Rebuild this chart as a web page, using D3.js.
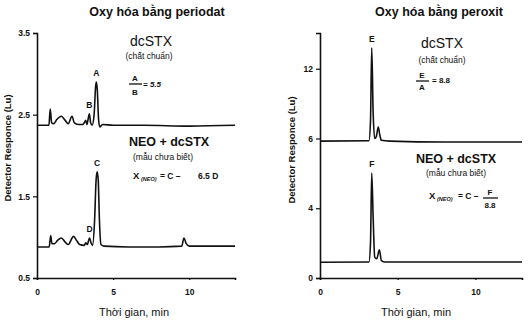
<!DOCTYPE html>
<html><head><meta charset="utf-8">
<script src="https://cdn.jsdelivr.net/npm/d3@7"></script>
<style>body{margin:0;background:#fff}svg{display:block}text{font-family:"Liberation Sans",Arial,sans-serif;fill:#111}</style>
</head><body><svg id="c" width="532" height="322"></svg>
<script>
// ---- data ----
const panelTitles = ["Oxy hóa bằng periodat", "Oxy hóa bằng peroxit"];
const xTicks = [0, 5, 10];
const leftYTicks = [3.5, 2.5, 1.5, 0.5];
const rightYTicks = [0, 4, 8, 12];
const rightYTickLabels = ["0", "4", "6", "12"];
// chromatograms: [time (min), response]
const periodatStd = [[0,2.37],[0.78,2.37],[0.87,2.57],[0.96,2.40],[1.1,2.39],[1.3,2.44],[1.6,2.48],[1.85,2.43],[2.05,2.39],[2.3,2.48],[2.45,2.40],[2.7,2.38],[3.0,2.38],[3.1,2.40],[3.2,2.43],[3.28,2.38],[3.36,2.45],[3.44,2.51],[3.52,2.40],[3.62,2.37],[3.75,2.5],[3.85,2.85],[3.9,2.9],[3.96,2.8],[4.04,2.45],[4.12,2.35],[4.3,2.38],[5,2.37],[7,2.37],[10,2.36],[13,2.37]];
const periodatSample = [[0,0.88],[0.8,0.88],[0.9,1.02],[0.98,0.92],[1.15,0.92],[1.35,0.96],[1.6,0.99],[1.85,0.94],[2.05,0.91],[2.4,1.01],[2.6,0.96],[2.8,0.91],[3.1,0.90],[3.2,0.93],[3.3,0.91],[3.45,0.99],[3.55,0.93],[3.65,0.90],[3.78,1.2],[3.88,1.7],[3.95,1.8],[4.02,1.7],[4.1,1.2],[4.2,0.91],[4.4,0.89],[6,0.88],[8,0.88],[9.5,0.89],[9.65,0.99],[9.8,0.92],[10,0.89],[13,0.89]];
const peroxitStd = [[0,7.85],[3.15,7.87],[3.25,9],[3.33,13.2],[3.42,9.5],[3.52,8.0],[3.62,8.1],[3.75,8.65],[3.85,8.2],[3.95,7.9],[4.5,7.85],[8,7.8],[13,7.8]];
const peroxitSample = [[0,0.9],[3.15,0.92],[3.25,2],[3.33,6.02],[3.42,3.5],[3.52,1.2],[3.65,1.1],[3.82,1.62],[3.95,1.0],[4.2,0.92],[13,0.92]];
// peak labels [time, value]
const leftPeaks = [["A",3.9,2.9],["B",3.44,2.51],["C",3.95,1.8],["D",3.45,0.99]];
const rightPeaks = [["E",3.33,13.2],["F",3.33,6.02]];

const svg = d3.select("#c");
const line = (x,y)=>d3.line().curve(d3.curveMonotoneX).x(d=>x(d[0])).y(d=>y(d[1]));

function panel(x, y, yTicks, yLabels){
  const g = svg.append("g");
  const ya = g.append("g").attr("transform",`translate(${x.range()[0]},0)`)
    .call(d3.axisLeft(y).tickValues(yTicks).tickSize(4).tickPadding(3)
      .tickFormat((d,i)=> yLabels ? yLabels[i] : d3.format(".1f")(d)));
  const xa = g.append("g").attr("transform",`translate(0,${y.range()[0]})`)
    .call(d3.axisBottom(x).tickValues(xTicks).tickSize(2).tickPadding(9).tickFormat(d3.format("d")));
  [ya,xa].forEach(a=>{
    a.select(".domain").attr("stroke","#111").attr("stroke-width",1.6);
    a.selectAll(".tick line").attr("stroke","#111").attr("stroke-width",1.2);
    a.selectAll("text").style("font-size","8.5px").style("font-weight","bold").attr("fill","#111");
  });
  return g;
}
function trace(g,data,x,y){
  g.append("path").datum(data).attr("d",line(x,y)).attr("fill","none")
   .attr("stroke","#111").attr("stroke-width",1.6).attr("stroke-linejoin","round");
}
function txt(x,y,s,size,weight,anchor){
  return svg.append("text").attr("x",x).attr("y",y).attr("text-anchor",anchor||"middle")
    .style("font-size",size+"px").style("font-weight",weight||"normal").text(s);
}

// ---- left panel ----
const xL = d3.scaleLinear().domain([0,13]).range([37,235]);
const yL = d3.scaleLinear().domain([0.5,3.5]).range([278,33]);
const gL = panel(xL,yL,leftYTicks,null);
trace(gL,periodatStd,xL,yL);
trace(gL,periodatSample,xL,yL);
leftPeaks.forEach(p=>txt(xL(p[1]),yL(p[2])-6,p[0],8.5,"bold"));

// ---- right panel ----
const xR = d3.scaleLinear().domain([0,13]).range([320,522]);
const yR = d3.scaleLinear().domain([0,14.05]).range([278,33]);
const gR = panel(xR,yR,rightYTicks,rightYTickLabels);
trace(gR,peroxitStd,xR,yR);
trace(gR,peroxitSample,xR,yR);
rightPeaks.forEach(p=>txt(xR(p[1]),yR(p[2])-6,p[0],8.5,"bold"));

// titles
txt(157,16,panelTitles[0],12.5,"bold");
txt(439,16,panelTitles[1],12.5,"bold");
// axis titles
txt(134,316,"Thời gian, min",11);
txt(416,316,"Thời gian, min",11);
svg.append("text").attr("transform","translate(11,148) rotate(-90)").attr("text-anchor","middle")
  .style("font-size","9.5px").style("font-weight","bold").text("Detector Responce (Lu)");
svg.append("text").attr("transform","translate(295,150) rotate(-90)").attr("text-anchor","middle")
  .style("font-size","9.5px").style("font-weight","bold").text("Detector Responce (Lu)");

// left annotations
txt(151,46,"dcSTX",14);
txt(149,59,"(chất chuẩn)",8.5);
txt(135,81,"A",8,"bold");
svg.append("line").attr("x1",129).attr("x2",142).attr("y1",84).attr("y2",84).attr("stroke","#111").attr("stroke-width",1.3);
txt(135,95,"B",8,"bold");
txt(143,87,"= 5.5",8,"bold","start").style("font-style","italic");
txt(169,146,"NEO + dcSTX",12.5,"bold");
txt(163,160,"(mẫu chưa biết)",8.5);
txt(133,179,"X",9.5,"bold","start");
txt(141,181,"(NEO)",5.5,"bold","start").style("font-style","italic");
txt(160,179,"= C –",8.5,"bold","start");
txt(198,179,"6.5 D",8.5,"bold","start");

// right annotations
txt(442,48,"dcSTX",14);
txt(442,63,"(chất chuẩn)",8.5);
txt(422,78,"E",8,"bold");
svg.append("line").attr("x1",416).attr("x2",429).attr("y1",81).attr("y2",81).attr("stroke","#111").attr("stroke-width",1.3);
txt(422,90,"A",8,"bold");
txt(432,83,"= 8.8",8,"bold","start");
txt(456,163,"NEO + dcSTX",12.5,"bold");
txt(456,176,"(mẫu chưa biết)",8.5);
txt(429,199,"X",9.5,"bold","start");
txt(437,201,"(NEO)",5.5,"bold","start").style("font-style","italic");
txt(458,199,"= C –",8.5,"bold","start");
txt(490,195,"F",8,"bold");
svg.append("line").attr("x1",483).attr("x2",498).attr("y1",198).attr("y2",198).attr("stroke","#111").attr("stroke-width",1.3);
txt(490,208,"8.8",8,"bold");
</script></body></html>
